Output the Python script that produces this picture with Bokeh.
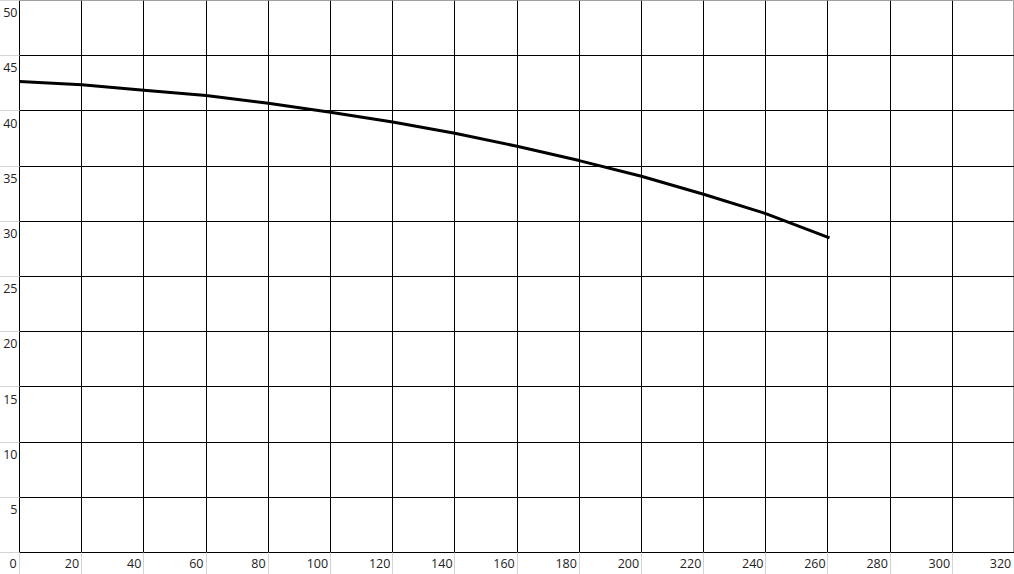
from bokeh.plotting import figure
from bokeh.models import Range1d, FixedTicker, CustomJSTickFormatter
from bokeh.embed import file_html
from bokeh.resources import INLINE

# data
flow = [0, 20, 40, 60, 80, 100, 120, 140, 160, 180, 200, 220, 240, 260.5]
head = [42.66, 42.36, 41.88, 41.39, 40.7, 39.88, 39.0, 37.97, 36.8, 35.5, 34.08, 32.45, 30.7, 28.5]

x_ticks = list(range(0, 321, 20))
y_ticks = list(range(0, 51, 5))
y_label_values = y_ticks[1:]

NBSP = "\u00a0"
Y_LABEL_SHIFT = 1.1  # labels sit inside the cell just below each gridline


def x_label(v):
    s = str(v)
    pad = 1 if v == x_ticks[-1] else 2 * len(s) + 2
    return s + NBSP * pad


p = figure(width=1014, height=574, output_backend="svg", toolbar_location=None,
           x_range=Range1d(0, 320), y_range=Range1d(0, 50),
           min_border_left=0, min_border_right=0, min_border_top=0, min_border_bottom=0)

p.outline_line_color = "#a0a0a0"
p.background_fill_color = "white"
p.border_fill_color = "white"

FONT = "Open Sans"
FS = "12.5px"
TXT = "#222222"

# x axis: true tick positions, light gray cell-border ticks, right-aligned labels
xa = p.xaxis[0]
xa.ticker = FixedTicker(ticks=x_ticks)
xa.major_label_overrides = {v: x_label(v) for v in x_ticks}
xa.axis_line_color = "black"
xa.major_tick_line_color = "#d4d4d4"
xa.major_tick_in = 0
xa.major_tick_out = 24
xa.minor_tick_line_color = None
xa.minor_tick_out = 0
xa.major_label_standoff = -22
xa.major_label_text_font = FONT
xa.major_label_text_font_size = FS
xa.major_label_text_color = TXT

# y axis: labels placed just below each gridline, gray cell borders as minor ticks
ya = p.yaxis[0]
ya.ticker = FixedTicker(ticks=[v - Y_LABEL_SHIFT for v in y_label_values], minor_ticks=y_ticks)
ya.formatter = CustomJSTickFormatter(code="return String(Math.round(tick / 5) * 5)")
ya.axis_line_color = "black"
ya.major_tick_line_color = None
ya.major_tick_in = 0
ya.major_tick_out = 0
ya.minor_tick_line_color = "#d4d4d4"
ya.minor_tick_in = 0
ya.minor_tick_out = 20
ya.major_label_standoff = -18
ya.major_label_text_font = FONT
ya.major_label_text_font_size = FS
ya.major_label_text_color = TXT

p.xgrid.ticker = FixedTicker(ticks=x_ticks[:-1])
p.ygrid.ticker = FixedTicker(ticks=y_ticks[:-1])
for g in (p.xgrid[0], p.ygrid[0]):
    g.grid_line_color = "black"
    g.grid_line_alpha = 1.0
    g.grid_line_width = 1

p.line(flow, head, line_color="black", line_width=3)

open("out.html", "w").write(file_html(p, INLINE))
